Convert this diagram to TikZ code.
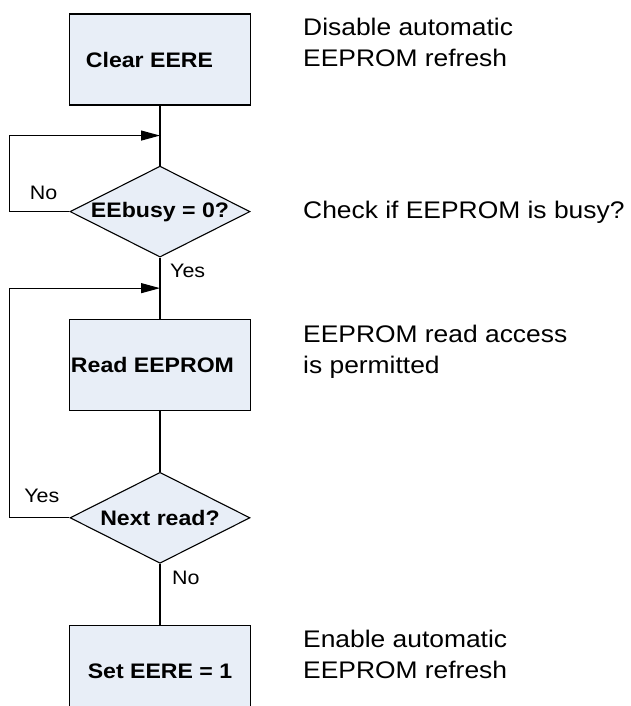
\documentclass[tikz,border=0pt]{standalone}
\usepackage{fontspec}
\setmainfont{Liberation Sans}[FakeStretch=1.1]
\usetikzlibrary{arrows.meta,positioning,shapes.geometric,calc}
\definecolor{boxfill}{RGB}{232,238,247}

\begin{document}
\begin{tikzpicture}[
  x=1pt, y=-1pt,
  block/.style={draw, fill=boxfill, line width=1.1pt, minimum width=181pt, minimum height=91pt, inner sep=0pt, font=\fontsize{21}{25}\selectfont\bfseries},
  decision/.style={diamond, draw, fill=boxfill, line width=1.1pt, aspect=2, inner sep=0pt, minimum width=180pt, minimum height=91pt, font=\fontsize{21}{25}\selectfont\bfseries},
  note/.style={align=left, anchor=north west, inner sep=0pt, font=\fontsize{24}{31}\selectfont},
  lbl/.style={inner sep=0pt, font=\fontsize{19.5}{23}\selectfont},
  link/.style={line width=1.1pt},
  arrow/.style={-{Triangle[length=19pt,width=10pt]}, line width=1.1pt}
]
\useasboundingbox (0,0) rectangle (630,706);

% flow
\node[block] (clear) at (160,59.5) {Clear EERE\kern21pt};
\node[decision, below=60pt of clear] (busy) {EEbusy = 0?};
\node[block, below=61pt of busy] (read) {Read EEPROM\kern15pt};
\node[decision, below=61pt of read] (next) {Next read?};
\node[block, below=61pt of next] (set) {Set EERE = 1};

\coordinate (j1) at ($(clear.south)!0.5!(busy.north)$);
\coordinate (j2) at ($(busy.south)!0.5!(read.north)$);

\draw[link] (clear) -- (busy);
\draw[link] (busy) -- (read);
\draw[link] (read) -- (next);
\draw[link] (next) -- (set);
\draw[arrow] (busy.west) -- ++(-60,0) |- (j1);
\draw[arrow] (next.west) -- ++(-60,0) |- (j2);

% branch labels
\node[lbl, above left=12pt and 12pt of busy.west] (no1) {No};
\node[lbl, below right=6pt and 10pt of busy.south] (yes1) {Yes};
\node[lbl, above left=15pt and 10pt of next.west] (yes2) {Yes};
\node[lbl, below right=7pt and 12pt of next.south] (no2) {No};

% comments on the right
\node[note] (n1) at (303,18) {Disable automatic\\EEPROM refresh};
\node[note] (n2) at (303,201) {Check if EEPROM is busy?};
\node[note] (n3) at (303,325) {EEPROM read access\\is permitted};
\node[note] (n4) at (303,630) {Enable automatic\\EEPROM refresh};

\end{tikzpicture}
\end{document}
